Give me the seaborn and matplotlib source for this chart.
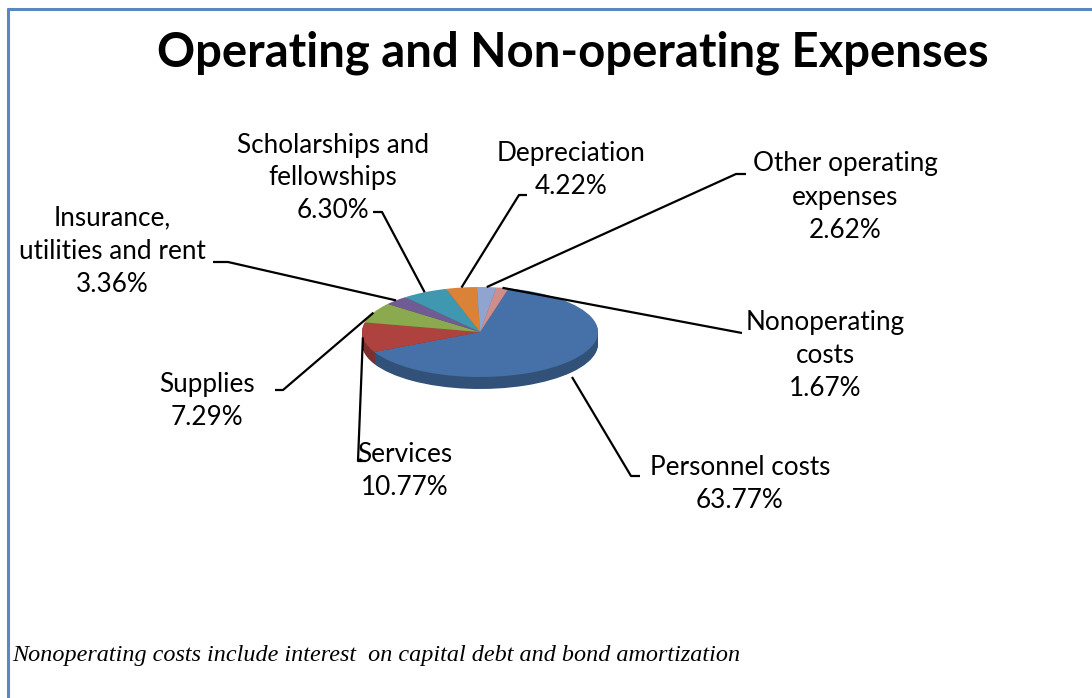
import matplotlib.pyplot as plt
import seaborn as sns
import numpy as np
from matplotlib.lines import Line2D

# Data
categories = ["Personnel costs", "Services", "Supplies", "Insurance, utilities and rent",
              "Scholarships and fellowships", "Depreciation", "Other operating expenses",
              "Nonoperating costs"]
shares = [63.77, 10.77, 7.29, 3.36, 6.30, 4.22, 2.62, 1.67]
label_texts = ["Personnel costs", "Services", "Supplies", "Insurance,\nutilities and rent",
               "Scholarships and\nfellowships", "Depreciation", "Other operating\nexpenses",
               "Nonoperating\ncosts"]
colors = ["#4571A8", "#AE423F", "#8BA94E", "#705B93", "#3F98AF", "#DB8239", "#8FA5CF", "#CF8D8C"]

sns.set_theme(style="white")
plt.rcParams["font.family"] = ["Lato", "DejaVu Sans"]

W, H = 1092, 698
fig = plt.figure(figsize=(W / 100, H / 100), dpi=100)
fig.patch.set_facecolor("white")
ax = fig.add_axes([0, 0, 1, 1])

# pie geometry in pixels: centre, horizontal and vertical semi-axes, side depth
cx, cy, a, b, depth_px = 480, 332, 118, 45, 12
depth = depth_px / b


def px(x, y):
    # pixel position (from top-left) -> data coordinates
    return (x - cx) / a, (cy - y) / b


# side wall: stacked darker pies
dark = [tuple(np.array(sns.desaturate(c, 1.0)) * 0.72) for c in colors]
for off in np.linspace(depth, 0.02, 14):
    ax.pie(shares, colors=dark, startangle=76, counterclock=False, radius=1,
           center=(0, -off), wedgeprops=dict(linewidth=0), frame=True)
wedges, _ = ax.pie(shares, colors=colors, startangle=76, counterclock=False, radius=1,
                   center=(0, 0), wedgeprops=dict(linewidth=0), frame=True)

ax.set_aspect("auto")
x0, y0 = px(0, H)
x1, y1 = px(W, 0)
ax.set_xlim(x0, x1)
ax.set_ylim(y0, y1)
ax.axis("off")

# label block centres and leader start points (pixels)
label_pos = [(740, 484), (405, 471), (207, 401), (112, 251),
             (333, 178), (571, 170), (845, 197), (825, 355)]
leader_pts = [[(640, 476), (631, 476)], [(366, 461), (358, 461)], [(275, 390), (283, 390)],
              [(213, 262), (228, 262)], [(373, 212), (382, 212)], [(527, 195), (519, 195)],
              [(746, 174), (736, 174)], [(742, 333)]]
drops = [1.4, 0, 0, 0, 0, 0, 0, 0]

for w, txt, val, pos, pts, drop in zip(wedges, label_texts, shares, label_pos, leader_pts, drops):
    mid = np.deg2rad((w.theta1 + w.theta2) / 2)
    anchor = (np.cos(mid), np.sin(mid) - drop * depth)
    xs = [px(*p)[0] for p in pts] + [anchor[0]]
    ys = [px(*p)[1] for p in pts] + [anchor[1]]
    ax.plot(xs, ys, color="black", lw=1.6, solid_capstyle="butt")
    tx, ty = px(*pos)
    ax.text(tx, ty, f"{txt}\n{val:.2f}%", ha="center", va="center", fontsize=18.8,
            linespacing=1.4, color="black")

fig.text(573 / W, 1 - 53 / H, "Operating and Non-operating Expenses", ha="center", va="center",
         fontsize=34, fontweight="bold", color="black")
fig.text(12 / W, 1 - 656 / H,
         "Nonoperating costs include interest  on capital debt and bond amortization",
         ha="left", va="center", fontsize=17.4, style="italic",
         family=["Liberation Serif", "DejaVu Serif"], color="black")

# chart frame (top and left edges visible)
fig.add_artist(Line2D([8 / W, 1], [1 - 9 / H, 1 - 9 / H], color="#5B86C2", lw=2.2))
fig.add_artist(Line2D([8 / W, 8 / W], [0, 1 - 9 / H], color="#5B86C2", lw=2.2))

fig.savefig("out.png", dpi=100)
